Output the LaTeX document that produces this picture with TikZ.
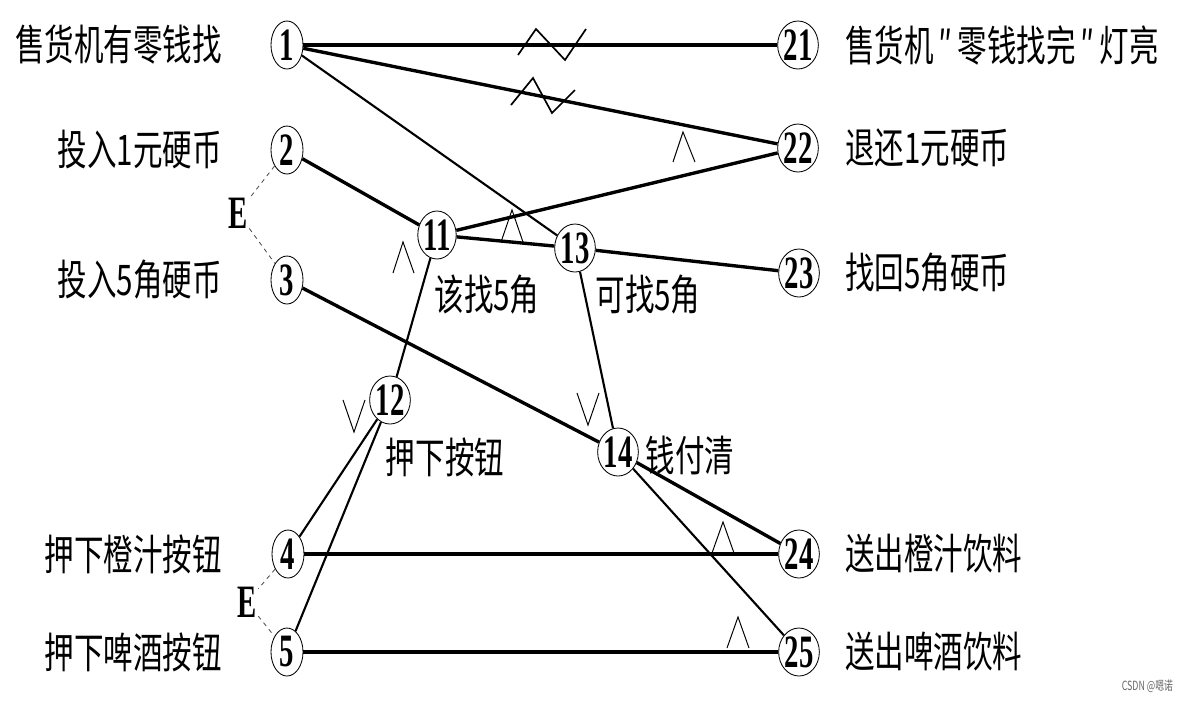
\documentclass[tikz,border=0pt]{standalone}
\usepackage{fontspec}
\setmainfont{Liberation Serif}
\newfontfamily\cjk[FakeStretch=0.7]{Noto Sans CJK SC}
\newfontfamily\numfont[FakeStretch=0.62]{Liberation Serif}
\usetikzlibrary{shapes.geometric}

\begin{document}
\begin{tikzpicture}[x=0.025cm, y=-0.025cm,
    cnode/.style={draw, line width=0.6pt, ellipse, minimum width=0.8cm, minimum height=1.2cm,
      inner sep=0pt, font=\numfont\bfseries\fontsize{33}{33}\selectfont},
    lbl/.style={inner sep=0pt, font=\cjk\fontsize{30}{30}\selectfont},
    enode/.style={inner sep=1pt, font=\numfont\bfseries\fontsize{33}{33}\selectfont},
    heavy/.style={line width=2.4pt},
    light/.style={line width=1.5pt},
    andmark/.style={line width=0.7pt},
    notmark/.style={line width=1.2pt},
    excl/.style={dashed, line width=0.6pt, black!70}]
  \useasboundingbox (0,0) rectangle (1186,700);
  % Causes
  \node[cnode] (c1) at (287,45) {1};
  \node[cnode] (c2) at (287,150) {2};
  \node[cnode] (c3) at (287,280) {3};
  \node[cnode] (c4) at (288,554) {4};
  \node[cnode] (c5) at (287,652) {5};
  \node[lbl, anchor=east] (t1) at (222,45) {售货机有零钱找};
  \node[lbl, anchor=east] (t2) at (222,150) {投入1元硬币};
  \node[lbl, anchor=east] (t3) at (222,280) {投入5角硬币};
  \node[lbl, anchor=east] (t4) at (222,554) {押下橙汁按钮};
  \node[lbl, anchor=east] (t5) at (222,652) {押下啤酒按钮};
  % Effects
  \node[cnode] (e21) at (798,45) {21};
  \node[cnode] (e22) at (798,148) {22};
  \node[cnode] (e23) at (799,273) {23};
  \node[cnode] (e24) at (799,554) {24};
  \node[cnode] (e25) at (799,652) {25};
  \node[lbl, anchor=west] (t21) at (845,45) {售货机\hspace{3pt}″\hspace{4pt}零钱找完\hspace{3pt}″\hspace{4pt}灯亮};
  \node[lbl, anchor=west] (t22) at (845,148) {退还1元硬币};
  \node[lbl, anchor=west] (t23) at (845,273) {找回5角硬币};
  \node[lbl, anchor=west] (t24) at (845,554) {送出橙汁饮料};
  \node[lbl, anchor=west] (t25) at (845,652) {送出啤酒饮料};
  % Intermediate nodes
  \node[cnode] (m11) at (437,235) {11};
  \node[cnode] (m13) at (575,248) {13};
  \node[cnode] (m12) at (390,400) {12};
  \node[cnode] (m14) at (618,452) {14};
  \node[lbl] (l11) at (487,295) {该找5角};
  \node[lbl] (l13) at (648,295) {可找5角};
  \node[lbl] (l12) at (445,457) {押下按钮};
  \node[lbl] (l14) at (690,455) {钱付清};
  % Exclusive constraints
  \node[enode] (ea) at (238,213) {E};
  \node[enode] (eb) at (247,602) {E};
  \draw[excl] (c2) -- (ea) -- (c3);
  \draw[excl] (c4) -- (eb) -- (c5);
  % Connections
  \draw[heavy] (c1) -- (e21);
  \draw[heavy] (c1) -- (e22);
  \draw[light] (c1) -- (m13);
  \draw[heavy] (c2) -- (m11);
  \draw[heavy] (m11) -- (e22);
  \draw[heavy] (m11) -- (m13);
  \draw[heavy] (m13) -- (e23);
  \draw[light] (m11) -- (m12);
  \draw[light] (m13) -- (m14);
  \draw[heavy] (c3) -- (m14);
  \draw[light] (m12) -- (c4);
  \draw[light] (m12) -- (c5);
  \draw[heavy] (c4) -- (e24);
  \draw[heavy] (c5) -- (e25);
  \draw[heavy] (m14) -- (e24);
  \draw[light] (m14) -- (e25);
  % NOT marks
  \draw[notmark] (518,55) -- (536,29) -- (565,60) -- (586,29);
  \draw[notmark] (511,105) -- (533,78) -- (552,113) -- (575,90);
  % AND / OR marks
  \draw[andmark] (673,162) -- (683,132) -- (695,162);
  \draw[andmark] (501,242) -- (512,210) -- (523,242);
  \draw[andmark] (393,273) -- (403,242) -- (414,273);
  \draw[andmark] (343,400) -- (354,432) -- (365,400);
  \draw[andmark] (577,393) -- (588,425) -- (599,393);
  \draw[andmark] (712,553) -- (723,522) -- (734,553);
  \draw[andmark] (727,648) -- (738,617) -- (749,648);
  % Watermark
  \node[anchor=east, text=black!60, font=\cjk\fontsize{9}{9}\selectfont] (wm) at (1178,686) {CSDN @嗯诺};
\end{tikzpicture}
\end{document}
